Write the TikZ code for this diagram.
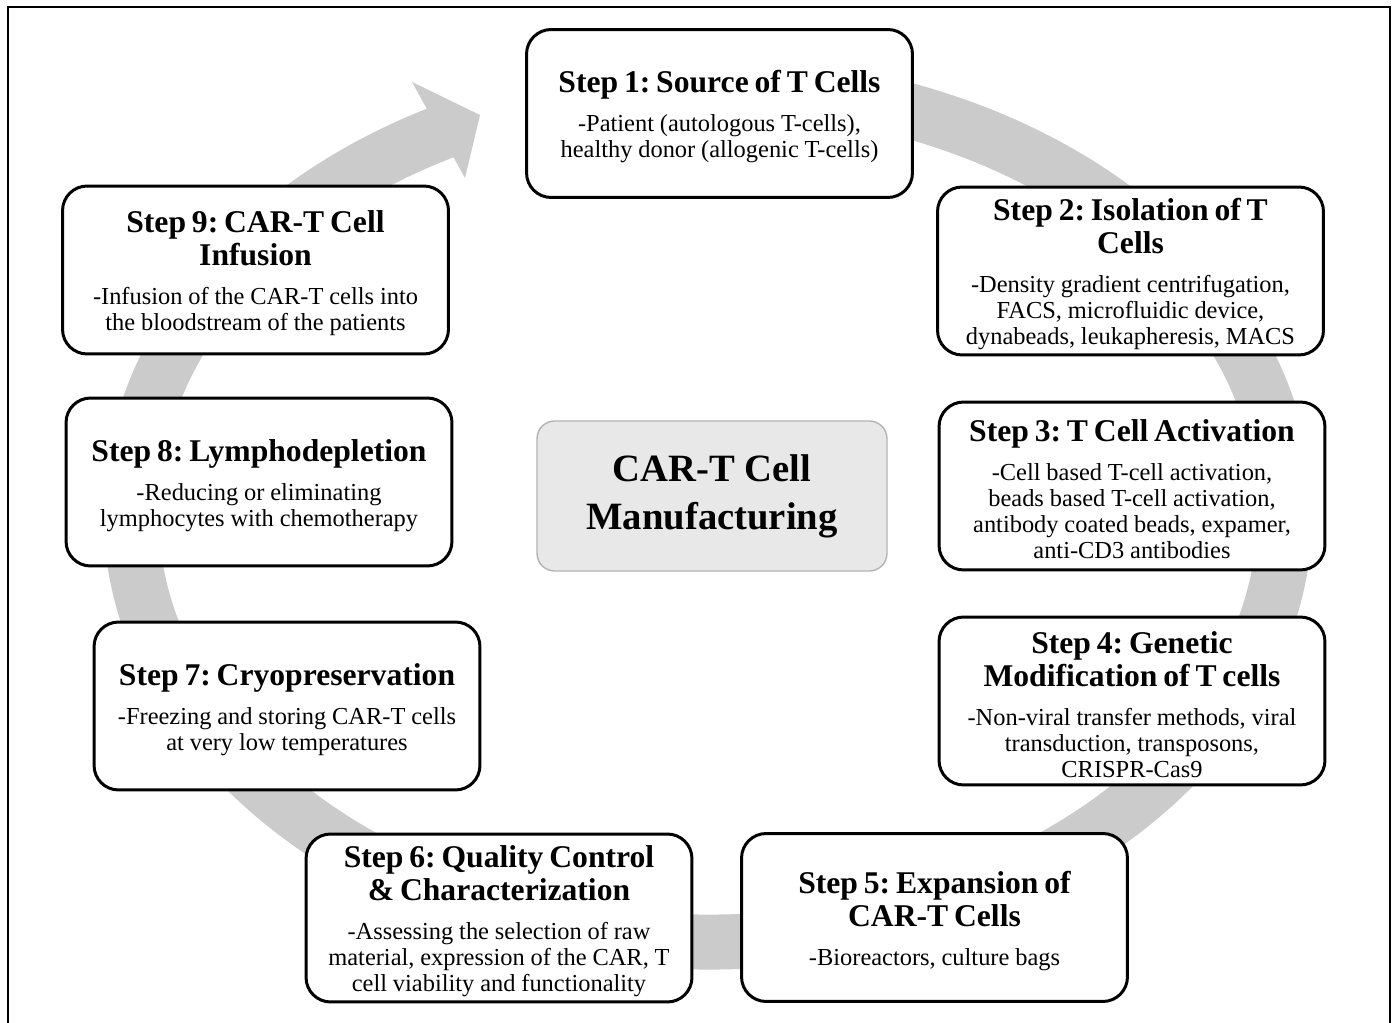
\documentclass[tikz,border=0pt]{standalone}
\usepackage{fontspec}
\setmainfont{Liberation Serif}
\frenchspacing

\definecolor{ringgray}{HTML}{CBCBCB}
\definecolor{hubfill}{HTML}{E8E8E8}
\definecolor{hubline}{HTML}{B4B4B4}

\newcommand{\steptitle}[1]{{\fontsize{18}{18.8}\selectfont\bfseries\rule{0pt}{16.3pt}#1\par}\vspace{7.5pt}}
\newcommand{\stepbody}[1]{{\fontsize{13.9}{14.8}\selectfont #1\par}}

\begin{document}
\begin{tikzpicture}[x=0.02cm,y=0.02cm]

\tikzset{stepbox/.style={draw=black, fill=white, line width=1.7pt, rounded corners=14pt, align=center, text width=212pt, minimum width=7.72cm, minimum height=3.36cm, inner sep=2pt}}
\tikzset{hubbox/.style={draw=hubline, fill=hubfill, line width=0.8pt, rounded corners=10pt, align=center, minimum width=7cm, minimum height=3cm, font=\fontsize{22}{27.3}\selectfont\bfseries}}
\tikzset{ring/.style={draw=ringgray, line width=31.3pt}}

\useasboundingbox (0,0) rectangle (1394,-1023);
\draw[line width=1.4pt] (8,-1023) -- (8,-7) -- (1390,-7) -- (1390,-1023);

\draw[ring] (708,-513) ++(80:577 and 429) arc[start angle=80, end angle=-243, x radius=577, y radius=429];
\fill[ringgray] (412,-82) -- (480,-115) -- (465,-178) -- cycle;

\node[hubbox] (hub) at (712,-496) {CAR-T Cell\\Manufacturing};

\node[stepbox] (s1) at (719.5,-113.5) {\steptitle{Step 1: Source of T Cells}\stepbody{-Patient (autologous T-cells),\\healthy donor (allogenic T-cells)}};
\node[stepbox] (s2) at (1130.5,-271) {\steptitle{Step 2: Isolation of T\\Cells}\stepbody{-Density gradient centrifugation,\\FACS, microfluidic device,\\dynabeads, leukapheresis, MACS}};
\node[stepbox] (s3) at (1132,-486) {\steptitle{Step 3: T Cell Activation}\stepbody{-Cell based T-cell activation,\\beads based T-cell activation,\\antibody coated beads, expamer,\\anti-CD3 antibodies}};
\node[stepbox] (s4) at (1132,-701) {\steptitle{Step 4: Genetic\\Modification of T cells}\stepbody{-Non-viral transfer methods, viral\\transduction, transposons,\\CRISPR-Cas9}};
\node[stepbox] (s5) at (934.5,-917.5) {\steptitle{Step 5: Expansion of\\CAR-T Cells}\stepbody{-Bioreactors, culture bags}};
\node[stepbox] (s6) at (499,-918) {\steptitle{Step 6: Quality Control\\\& Characterization}\stepbody{-Assessing the selection of raw\\material, expression of the CAR, T\\cell viability and functionality}};
\node[stepbox] (s7) at (287,-706) {\steptitle{Step 7: Cryopreservation}\stepbody{-Freezing and storing CAR-T cells\\at very low temperatures}};
\node[stepbox] (s8) at (259,-482) {\steptitle{Step 8: Lymphodepletion}\stepbody{-Reducing or eliminating\\lymphocytes with chemotherapy}};
\node[stepbox] (s9) at (255.5,-270) {\steptitle{Step 9: CAR-T Cell\\Infusion}\stepbody{-Infusion of the CAR-T cells into\\the bloodstream of the patients}};

\end{tikzpicture}
\end{document}
